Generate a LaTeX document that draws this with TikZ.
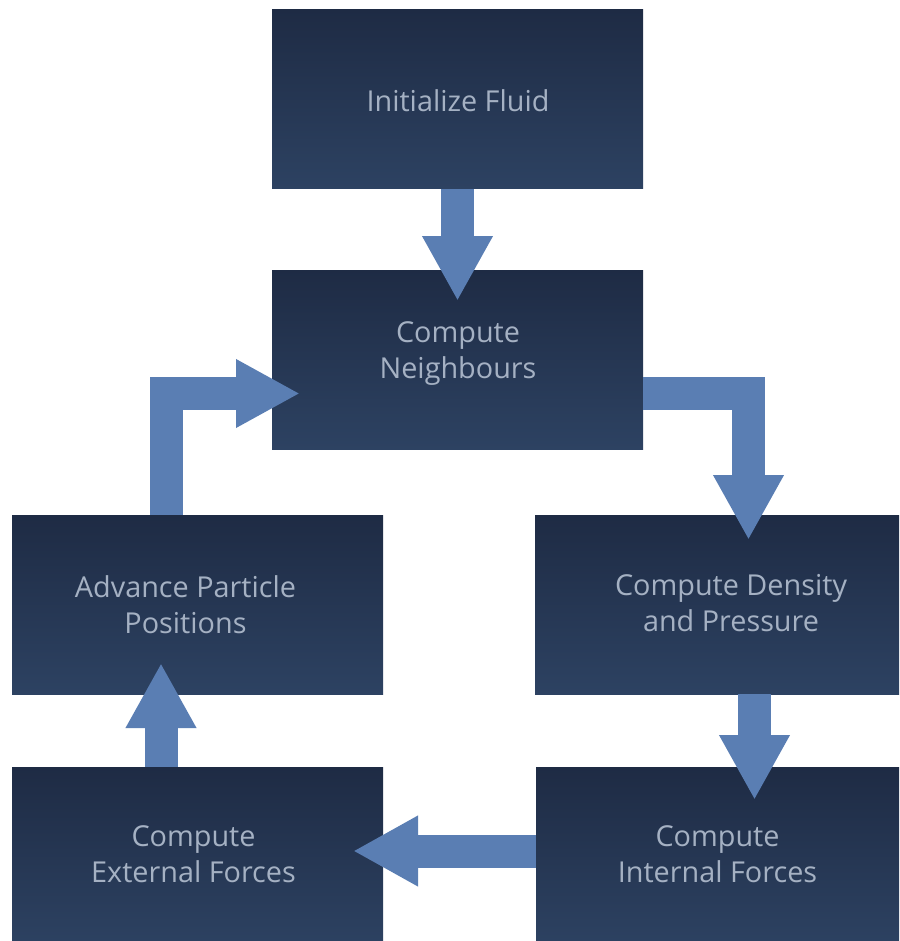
\documentclass[tikz,border=0pt]{standalone}
\usepackage{fontspec}
\setmainfont{Open Sans}
\usetikzlibrary{arrows.meta,calc}
\definecolor{boxtop}{HTML}{1E2B44}
\definecolor{boxbot}{HTML}{2D4262}
\definecolor{txt}{HTML}{A5B1C3}
\definecolor{arr}{HTML}{5A7EB3}
\tikzset{
  stepbox/.style={rectangle, inner sep=0pt, outer sep=0pt, minimum width=371pt, minimum height=179pt, top color=boxtop, bottom color=boxbot, draw=none},
  lbl/.style={text=txt, align=center, inner sep=0pt, font=\fontsize{28.8}{36}\selectfont},
  blk/.style={draw=arr, line width=33pt, line join=miter, -{Triangle[width=66pt,length=65pt]}},
}
\begin{document}
\begin{tikzpicture}[x=1pt,y=-1pt]
\useasboundingbox (0,0) rectangle (899,941);
\clip (0,0) rectangle (899,941);
% boxes
\node[stepbox] (init) at (457.5,99.5) {};
\node[stepbox] (neigh) at (457.5,359.5) {};
\node[stepbox] (adv) at (197.5,604.5) {};
\node[stepbox, minimum width=364pt] (dens) at (717,604.5) {};
\node[stepbox] (ext) at (197.5,856.5) {};
\node[stepbox, minimum width=363pt] (int) at (717.5,856.5) {};
% arrows
\draw[blk] (init.south) -- ($(neigh.north)+(0,31)$);
\draw[blk] ($(neigh.east)+(0,34)$) -| ($(dens.north)+(31.5,25)$);
\draw[blk] ($(dens.south)+(37.5,0)$) -- ($(int.north)+(37,33)$);
\draw[blk] ($(int.west)+(0,-5.5)$) -- ($(ext.east)+(-30,-5.5)$);
\draw[blk] ($(ext.north)+(-36.5,0)$) -- ($(adv.south)+(-36.5,-31)$);
\draw[blk, -{Triangle[width=64pt,length=64pt]}] ($(adv.north)+(-31,0)$) |- ($(neigh.west)+(28,34)$);
% labels
\node[lbl] (tinit) at ($(init.center)+(0.5,1.5)$) {Initialize Fluid};
\node[lbl] (tneigh) at ($(neigh.center)+(0.5,-5.5)$) {Compute\\Neighbours};
\node[lbl] (tadv) at ($(adv.center)+(-12,0.5)$) {Advance Particle\\Positions};
\node[lbl] (tdens) at ($(dens.center)+(14,-1)$) {Compute Density\\and Pressure};
\node[lbl] (text) at ($(ext.center)+(-4,-2.5)$) {Compute\\External Forces};
\node[lbl] (tint) at ($(int.center)+(0,-2.5)$) {Compute\\Internal Forces};
\end{tikzpicture}
\end{document}
